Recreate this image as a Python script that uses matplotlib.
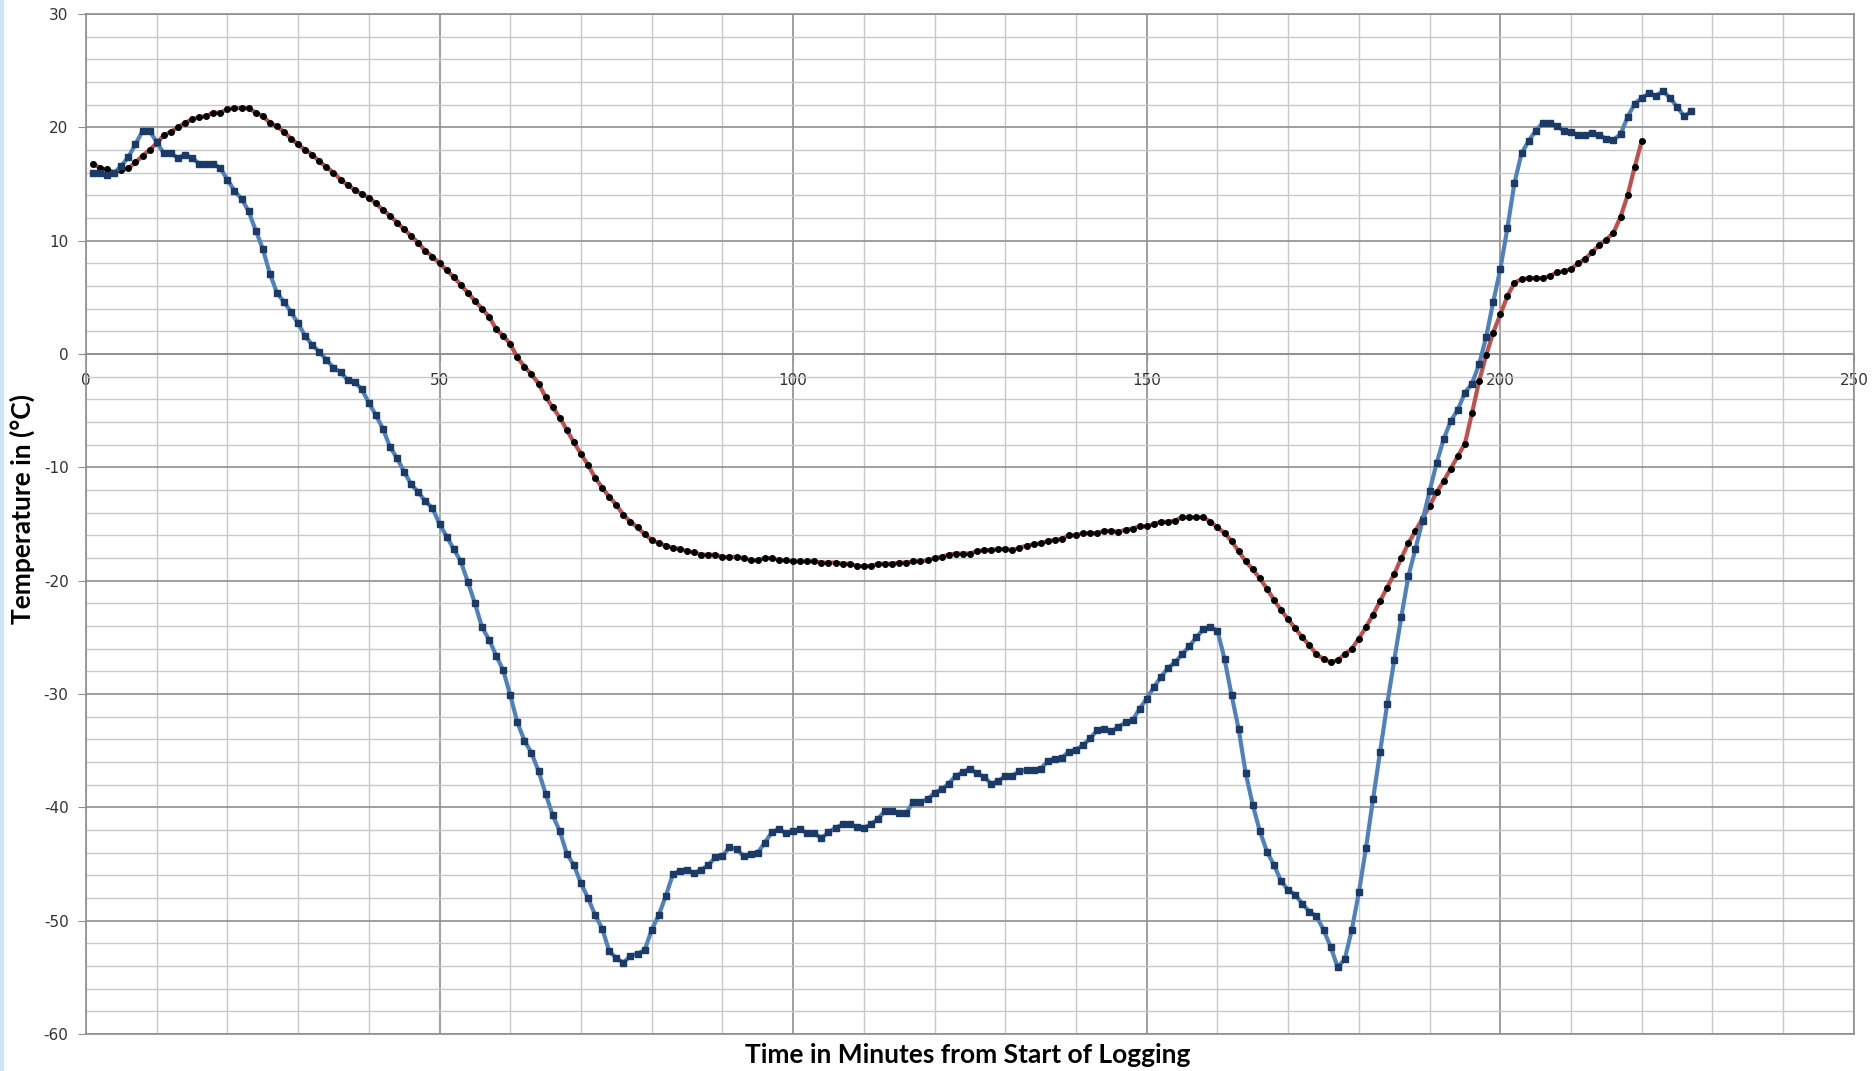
import matplotlib
matplotlib.use('Agg')
from matplotlib import pyplot as plt
from matplotlib.patches import Rectangle
from matplotlib.ticker import MultipleLocator

plt.rcParams['axes.unicode_minus'] = False

# minutes from start of logging (one reading per minute)
red_minutes = list(range(1, 221))
blue_minutes = list(range(1, 228))

red_temp = [
    16.8, 16.4, 16.3, 16.0, 16.2, 16.4, 16.9, 17.5, 18.0, 18.6,
    19.3, 19.6, 20.0, 20.4, 20.7, 20.9, 21.0, 21.3, 21.3, 21.6,
    21.7, 21.7, 21.7, 21.3, 21.0, 20.4, 20.1, 19.6, 19.0, 18.5,
    18.0, 17.6, 17.0, 16.5, 16.0, 15.4, 14.9, 14.5, 14.1, 13.8,
    13.3, 12.7, 12.2, 11.6, 11.0, 10.4, 9.8, 9.1, 8.6, 8.0,
    7.4, 6.8, 6.1, 5.4, 4.7, 4.0, 3.3, 2.2, 1.6, 0.9,
    -0.3, -1.1, -1.8, -2.6, -3.8, -4.7, -5.6, -6.7, -7.8, -8.8,
    -9.8, -10.9, -11.8, -12.6, -13.3, -14.2, -14.8, -15.3, -15.9, -16.4,
    -16.7, -16.9, -17.1, -17.2, -17.4, -17.5, -17.7, -17.7, -17.7, -17.9,
    -17.9, -17.9, -18.0, -18.2, -18.2, -18.0, -18.0, -18.2, -18.2, -18.3,
    -18.3, -18.3, -18.3, -18.4, -18.4, -18.4, -18.5, -18.5, -18.7, -18.7,
    -18.7, -18.5, -18.5, -18.5, -18.4, -18.4, -18.3, -18.3, -18.2, -18.0,
    -17.9, -17.7, -17.6, -17.6, -17.6, -17.4, -17.3, -17.3, -17.2, -17.2,
    -17.3, -17.1, -16.9, -16.8, -16.7, -16.5, -16.4, -16.3, -16.0, -16.0,
    -15.8, -15.8, -15.8, -15.6, -15.6, -15.7, -15.5, -15.4, -15.2, -15.2,
    -15.0, -14.8, -14.8, -14.7, -14.4, -14.4, -14.4, -14.4, -14.8, -15.3,
    -15.8, -16.5, -17.4, -18.3, -19.0, -19.8, -20.7, -21.7, -22.6, -23.4,
    -24.2, -25.0, -25.7, -26.5, -26.9, -27.2, -27.0, -26.5, -26.0, -25.1,
    -24.1, -23.0, -21.8, -20.6, -19.4, -18.0, -16.7, -15.6, -14.5, -13.4,
    -12.2, -11.2, -10.1, -9.0, -7.9, -5.2, -2.4, -0.1, 1.9, 3.5,
    5.1, 6.3, 6.6, 6.7, 6.7, 6.7, 6.9, 7.2, 7.3, 7.5,
    8.0, 8.4, 9.0, 9.6, 10.1, 10.7, 12.1, 14.0, 16.5, 18.8,
]

blue_temp = [
    16.0, 16.0, 15.8, 16.0, 16.6, 17.4, 18.5, 19.7, 19.7, 18.7,
    17.7, 17.7, 17.3, 17.6, 17.3, 16.8, 16.8, 16.8, 16.4, 15.4,
    14.4, 13.7, 12.6, 10.9, 9.3, 7.1, 5.4, 4.6, 3.7, 2.7,
    1.6, 0.8, 0.2, -0.5, -1.2, -1.6, -2.3, -2.5, -3.1, -4.3,
    -5.4, -6.6, -8.2, -9.2, -10.4, -11.5, -12.2, -13.0, -13.6, -15.0,
    -16.1, -17.2, -18.3, -20.1, -22.0, -24.1, -25.2, -26.6, -27.9, -30.1,
    -32.5, -34.1, -35.2, -36.8, -38.8, -40.7, -42.1, -44.1, -45.1, -46.7,
    -48.0, -49.5, -50.7, -52.7, -53.3, -53.7, -53.1, -52.9, -52.6, -50.8,
    -49.5, -47.8, -45.9, -45.6, -45.5, -45.8, -45.5, -45.1, -44.4, -44.3,
    -43.5, -43.7, -44.3, -44.1, -44.0, -43.1, -42.2, -41.9, -42.3, -42.1,
    -41.9, -42.3, -42.3, -42.7, -42.2, -41.8, -41.5, -41.5, -41.7, -41.8,
    -41.5, -41.0, -40.3, -40.3, -40.5, -40.5, -39.5, -39.5, -39.3, -38.7,
    -38.4, -37.9, -37.2, -36.9, -36.6, -37.0, -37.3, -37.9, -37.7, -37.2,
    -37.2, -36.8, -36.7, -36.7, -36.6, -35.9, -35.7, -35.6, -35.1, -34.9,
    -34.5, -33.9, -33.2, -33.1, -33.3, -32.9, -32.5, -32.3, -31.3, -30.4,
    -29.4, -28.5, -27.7, -27.2, -26.5, -25.8, -25.0, -24.3, -24.1, -24.4,
    -26.9, -30.1, -33.1, -37.0, -39.8, -42.1, -43.9, -45.1, -46.5, -47.3,
    -47.7, -48.5, -49.2, -49.6, -50.8, -52.3, -54.1, -53.4, -50.8, -47.5,
    -43.6, -39.3, -35.1, -30.9, -27.0, -23.2, -19.6, -17.2, -14.7, -12.1,
    -9.6, -7.5, -5.9, -4.9, -3.4, -2.6, -0.9, 1.5, 4.6, 7.5,
    11.1, 15.1, 17.7, 18.8, 19.7, 20.4, 20.4, 20.1, 19.7, 19.6,
    19.3, 19.3, 19.5, 19.3, 19.0, 18.9, 19.4, 20.9, 22.1, 22.6,
    23.0, 22.8, 23.2, 22.6, 21.8, 21.0, 21.4,
]

x_label = 'Time in Minutes from Start of Logging'
y_label = 'Temperature in (°C)'

label_font = ['Lato', 'DejaVu Sans']
major_grid = '#8f8f8f'
minor_grid = '#c8c8c8'

fig = plt.figure(figsize=(18.73, 10.71), dpi=100)
fig.patch.set_facecolor('white')
ax = fig.add_axes([0.0459, 0.0345, 0.9439, 0.9524])

ax.plot(red_minutes, red_temp, color='#c0504d', lw=3.0, marker='o',
        markersize=4.0, markerfacecolor='black', markeredgecolor='black', zorder=3)
ax.plot(blue_minutes, blue_temp, color='#4f81bd', lw=3.0, marker='s',
        markersize=4.4, markerfacecolor='#1b3a66', markeredgecolor='#1b3a66', zorder=4)

ax.set_xlim(0, 250)
ax.set_ylim(-60, 30)
ax.xaxis.set_major_locator(MultipleLocator(50))
ax.xaxis.set_minor_locator(MultipleLocator(10))
ax.yaxis.set_major_locator(MultipleLocator(10))
ax.yaxis.set_minor_locator(MultipleLocator(2))

ax.grid(which='minor', color=minor_grid, lw=1.0, zorder=0)
ax.grid(which='major', color=major_grid, lw=1.2, zorder=1)
ax.set_axisbelow(True)

ax.spines['bottom'].set_position(('data', 0))
for s in ax.spines.values():
    s.set_color(major_grid)
    s.set_linewidth(1.2)
ax.axhline(-60, color=major_grid, lw=1.2, clip_on=False, zorder=1)

ax.tick_params(axis='x', which='major', direction='out', length=5, pad=9,
               color=major_grid, labelsize=11, labelcolor='#333333')
ax.tick_params(axis='y', which='major', direction='out', length=5.5, pad=7,
               color=major_grid, labelsize=11, labelcolor='#333333')
ax.tick_params(which='minor', length=0)

fig.text(968 / 1873, 1 - 1055 / 1071, x_label, ha='center', va='center',
         fontsize=19, fontweight='bold', family=label_font)
fig.text(22 / 1873, 1 - 509 / 1071, y_label, ha='center', va='center',
         rotation=90, fontsize=19, fontweight='bold', family=label_font)

fig.patches.append(Rectangle((0, 0), 3 / 1873, 1, transform=fig.transFigure,
                             color='#cfe6f8', zorder=0))

plt.savefig('out.png', dpi=100)
